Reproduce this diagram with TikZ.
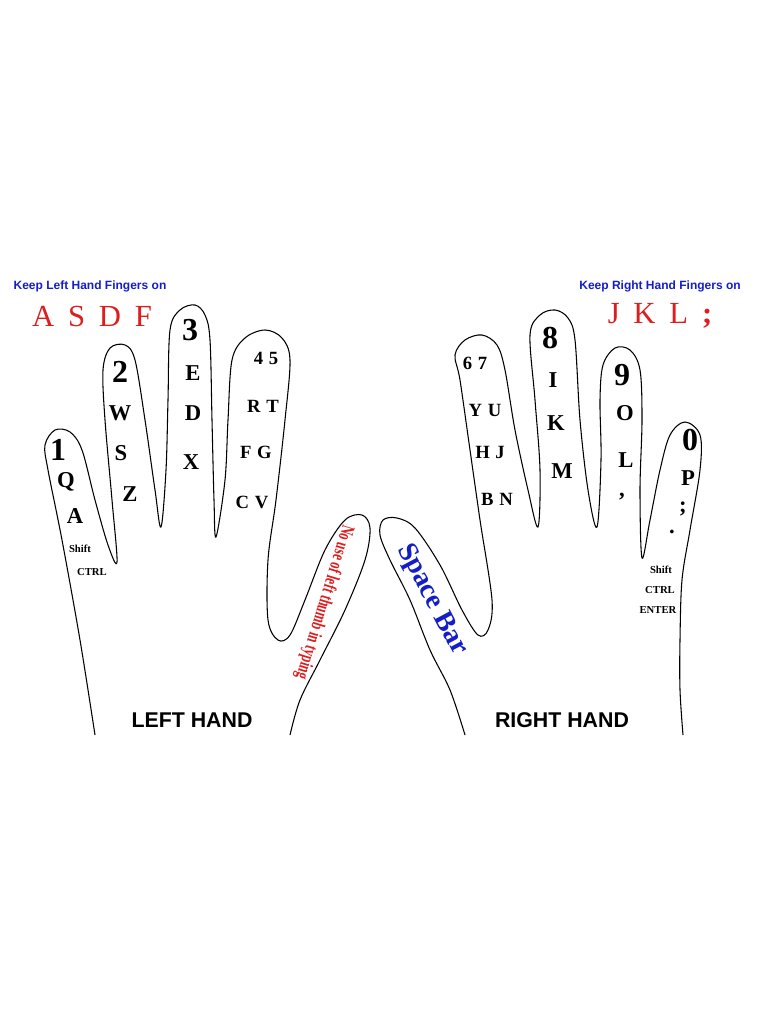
\documentclass[tikz,border=0pt]{standalone}
\usepackage{fontspec}
\usepackage{graphicx}
\setmainfont{Liberation Serif}
\setsansfont{Liberation Sans}
\definecolor{kred}{RGB}{220,30,30}
\definecolor{kblue}{RGB}{20,30,200}
\newcommand{\fs}[1]{\fontsize{#1}{#1}\selectfont}
\begin{document}
\begin{tikzpicture}[x=0.75pt,y=-0.75pt,
  hand/.style={draw=black,line width=0.8pt,fill=white},
  key/.style={font=\bfseries\fs{17}},
  big/.style={font=\bfseries\fs{24}},
  small/.style={font=\bfseries\fs{14}},
  tiny/.style={font=\bfseries\fs{8}},
  lbl/.style={font=\sffamily\bfseries\fs{9}, text=kblue},
  home/.style={font=\fs{23}, text=kred},
  hname/.style={font=\sffamily\bfseries\fs{16}}]
\useasboundingbox (0,0) rectangle (768,1024);
\fill[white] (0,0) rectangle (768,1024);
% left hand
\draw[hand] plot[smooth,tension=0.55] coordinates {(95,735) (80,640) (62,540) (48,470) (45,445) (55,430) (70,432) (82,450) (95,500) (108,545) (117,562) (112,500) (105,420) (103,370) (110,348) (125,345) (135,360) (145,420) (155,490) (161,527) (166,470) (168,400) (170,330) (180,310) (195,305) (205,315) (210,340) (212,420) (214,500) (216,537) (225,480) (228,420) (232,360) (245,338) (265,330) (282,338) (290,360) (285,420) (276,500) (268,560) (268,620) (278,640) (290,635) (305,600) (325,550) (345,520) (362,515) (370,528) (365,560) (345,610) (320,660) (300,700) (290,735)};
% right hand
\draw[hand] plot[smooth,tension=0.55] coordinates {(465,735) (450,690) (430,650) (410,600) (390,560) (380,535) (383,520) (397,518) (415,528) (440,565) (462,610) (478,635) (488,630) (492,600) (480,520) (470,450) (460,380) (455,355) (465,340) (482,335) (497,345) (505,370) (515,430) (528,490) (538,527) (540,470) (535,400) (530,335) (540,315) (555,310) (568,318) (575,340) (580,420) (588,490) (597,527) (601,460) (600,400) (603,365) (615,348) (630,350) (640,370) (642,420) (640,490) (642,558) (650,520) (660,470) (670,435) (685,422) (700,435) (700,470) (690,530) (682,580) (680,640) (680,690) (683,735)};
% headings
\node[lbl] (kl) at (90,286) {Keep Left Hand Fingers on};
\node[lbl] (kr) at (660,286) {Keep Right Hand Fingers on};
\node[home] (asdf) at (92,316) {A\hspace{0.45em}S\hspace{0.45em}D\hspace{0.45em}F};
\node[home] (jkl) at (660,316) {J\hspace{0.45em}K\hspace{0.45em}L\hspace{0.45em}\textbf{;}};
% left pinky
\node[big] (n1) at (58,450) {1};
\node[key] (q) at (66,482) {Q};
\node[key] (a) at (75,516) {A};
\node[tiny] (ls) at (80,549) {Shift};
\node[tiny] (lc) at (92,572) {CTRL};
% left ring
\node[big] (n2) at (120,372) {2};
\node[key] (w) at (120,413) {W};
\node[key] (s) at (121,453) {S};
\node[key] (z) at (130,494) {Z};
% left middle
\node[big] (n3) at (190,330) {3};
\node[key] (e) at (193,373) {E};
\node[key] (d) at (193,413) {D};
\node[key] (x) at (191,462) {X};
% left index
\node[small] (n45) at (266,358) {4\hspace{0.3em}5};
\node[small] (rt) at (263,406) {R\hspace{0.3em}T};
\node[small] (fg) at (256,452) {F\hspace{0.3em}G};
\node[small] (cv) at (252,502) {C\hspace{0.3em}V};
% left thumb
\node[text=kred, rotate=-107, inner sep=0pt] (lt) at (324,602) {\resizebox{120pt}{10pt}{\bfseries\fs{11}No use of left thumb in typing}};
% right thumb
\node[font=\bfseries\fs{21}, text=kblue, rotate=-62] (sb) at (432,600) {Space Bar};
% right index
\node[small] (n67) at (475,363) {6\hspace{0.3em}7};
\node[small] (yu) at (485,410) {Y\hspace{0.3em}U};
\node[small] (hj) at (490,452) {H\hspace{0.3em}J};
\node[small] (bn) at (497,499) {B\hspace{0.3em}N};
% right middle
\node[big] (n8) at (550,338) {8};
\node[key] (i) at (553,380) {I};
\node[key] (k) at (556,423) {K};
\node[key] (m) at (562,471) {M};
% right ring
\node[big] (n9) at (622,375) {9};
\node[key] (o) at (625,413) {O};
\node[key] (l) at (626,460) {L};
\node[key] (cm) at (622,497) {,};
% right pinky
\node[big] (n0) at (690,440) {0};
\node[key] (p) at (688,478) {P};
\node[key] (sc) at (683,509) {;};
\node[key] (dt) at (672,532) {.};
\node[tiny] (rs) at (661,570) {Shift};
\node[tiny] (rc) at (660,590) {CTRL};
\node[tiny] (re) at (658,610) {ENTER};
% hand names
\node[hname] (lh) at (192,720) {LEFT HAND};
\node[hname] (rh) at (562,720) {RIGHT HAND};
\end{tikzpicture}
\end{document}
